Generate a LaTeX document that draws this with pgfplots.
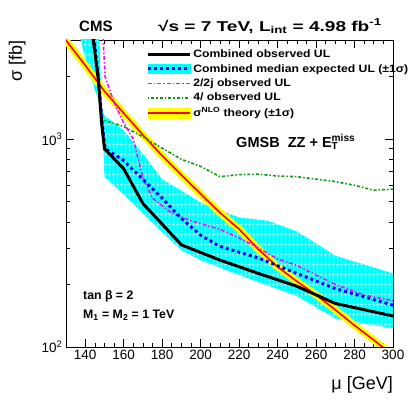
\documentclass[border=0pt]{standalone}
\usepackage{fontspec}
\setmainfont{Liberation Sans}
\newfontfamily\widefont[FakeStretch=1.33]{Liberation Sans}
\newfontfamily\legfont[FakeStretch=1.14]{Liberation Sans}
\usepackage{pgfplots}
\pgfplotsset{compat=1.18}
\usetikzlibrary{patterns.meta}
\definecolor{rootgreen}{rgb}{0.05,0.6,0.05}
\definecolor{rcyan}{rgb}{0,1,1}
\definecolor{rmagenta}{rgb}{1,0,1}
\definecolor{ryellow}{rgb}{1,1,0}
\definecolor{rred}{rgb}{1,0,0}
\definecolor{rblue}{rgb}{0,0,1}
\tikzdeclarepattern{name=bandgrid, type=uncolored, bounding box={(0pt,0pt) and (4pt,10pt)}, tile size={(4pt,10pt)}, code={\draw[line width=0.6pt] (2pt,0pt)--(2pt,10pt); \draw[line width=0.6pt] (0pt,5pt)--(4pt,5pt);}}
\pgfplotsset{
 legobs/.style={legend image code/.code={\draw[black, line width=3pt] (0pt,0pt) -- (42pt,0pt);}},
 legexp/.style={legend image code/.code={\fill[rcyan] (0pt,-4.5pt) rectangle (42pt,4.5pt); \draw[rblue, line width=3pt, dash pattern=on 3pt off 3pt] (0pt,0pt) -- (42pt,0pt);}},
 legll/.style={legend image code/.code={\draw[rmagenta, line width=1.5pt, dash pattern=on 4pt off 2pt on 1.5pt off 2pt] (0pt,0pt) -- (42pt,0pt);}},
 legfour/.style={legend image code/.code={\draw[rootgreen, line width=1.6pt, dash pattern=on 1.5pt off 2pt on 3pt off 2pt] (0pt,0pt) -- (42pt,0pt);}},
 legth/.style={legend image code/.code={\fill[ryellow] (0pt,-5pt) rectangle (42pt,5pt); \draw[rred, line width=1.6pt] (0pt,0pt) -- (42pt,0pt);}},
}
\begin{document}
\begin{tikzpicture}
\useasboundingbox (-66pt,-52pt) rectangle (349pt,347pt);
\begin{axis}[
 at={(0pt,0pt)}, anchor=south west,
 scale only axis, width=327pt, height=307pt,
 xmin=130, xmax=300, ymin=100, ymax=3000, ymode=log,
 xtick={140,160,...,300}, minor x tick num=3,
 ytick={100,1000}, yticklabels={10\textsuperscript{2},10\textsuperscript{3}},
 minor ytick={200,300,400,500,600,700,800,900,2000,3000},
 tick align=inside, major tick length=8pt, minor tick length=4pt,
 axis line style={line width=0.8pt},
 every tick/.style={black, line width=0.6pt},
 tick label style={font=\fontsize{13.5}{15}\selectfont},
 /pgf/number format/assume math mode=true,
 /pgf/number format/set thousands separator={},
 xlabel={μ [GeV]}, ylabel={σ [fb]},
 label style={font=\fontsize{18}{20}\selectfont},
 xlabel style={at={(axis description cs:1,-0.140)}, anchor=base east, inner sep=0pt},
 ylabel style={at={(axis description cs:-0.1346,1)}, anchor=base east, inner sep=0pt},
 clip mode=individual,
 legend style={draw=none, fill=none, at={(axis description cs:0.245,0.975)}, anchor=north west,
   font=\legfont\fontsize{10.7}{12}\selectfont\bfseries, inner sep=0pt, row sep=1.2pt,
   cells={anchor=west}, /tikz/every even column/.append style={column sep=4pt}},
 legend cell align=left,
]
% expected +-1 sigma band
\addplot[fill=rcyan, draw=none, forget plot] coordinates {
 (136.5,3300) (140,2450) (145,1720) (150,1300) (160,1100) (170,850) (180,640) (190,565)
 (200,495) (210,455) (220,420) (235,405) (250,360) (270,275) (300,226)
 (300,123) (270,137) (250,176) (240,190) (220,222) (200,262) (190,292) (180,357)
 (170,440) (160,541) (150,660) (147.3,3000) (146.8,3600)
};
\addplot[pattern=bandgrid, pattern color=white!75!rcyan, draw=none, forget plot] coordinates {
 (136.5,3300) (140,2450) (145,1720) (150,1300) (160,1100) (170,850) (180,640) (190,565)
 (200,495) (210,455) (220,420) (235,405) (250,360) (270,275) (300,226)
 (300,123) (270,137) (250,176) (240,190) (220,222) (200,262) (190,292) (180,357)
 (170,440) (160,541) (150,660) (147.3,3000) (146.8,3600)
};
% theory
\addplot[ryellow, line width=7pt, forget plot] coordinates {
 (128,3200) (130,2990) (140,2265) (150,1700) (160,1334) (170,1047) (180,832) (190,673) (200,545)
 (210,443) (220,369) (230,295) (240,243) (250,207) (260,178) (270,151) (280,127) (290,108) (300,91)
};
\addplot[rred, line width=1.6pt, forget plot] coordinates {
 (128,3200) (130,2990) (140,2265) (150,1700) (160,1334) (170,1047) (180,832) (190,673) (200,545)
 (210,443) (220,369) (230,295) (240,243) (250,207) (260,178) (270,151) (280,127) (290,108) (300,91)
};
% 4l observed
\addplot[rootgreen, line width=1.6pt, dash pattern=on 1.5pt off 2pt on 3pt off 2pt, forget plot] coordinates {
 (150,1230) (160,1150) (170,1025) (180,905) (190,800) (200,740) (210,660) (220,675) (230,678)
 (240,665) (250,660) (260,642) (270,625) (280,600) (290,568) (300,575)
};
% 2l2j observed
\addplot[rmagenta, line width=1.5pt, dash pattern=on 4pt off 2pt on 1.5pt off 2pt, forget plot] coordinates {
 (149.3,3100) (150.3,2000) (155,1500) (160,1200) (165,1000) (170,650) (175,520) (185,440)
 (195,405) (210,368) (220,335) (230,300) (240,265) (250,247) (260,222) (270,200) (285,178) (300,167)
};
% expected
\addplot[rblue, line width=3pt, dash pattern=on 3pt off 3pt, forget plot] coordinates {
 (144.5,3100) (147,1900) (148.8,1200) (150.3,900) (160,790) (170,640) (180,520) (190,415)
 (200,345) (210,305) (230,268) (250,226) (270,191) (300,159)
};
% observed
\addplot[black, line width=3pt, forget plot] coordinates {
 (144.0,3100) (146.8,1940) (148.5,1200) (150,900) (160,720) (170,490) (180,390) (190,310)
 (210,262) (230,226) (250,196) (270,162) (300,141)
};
\addlegendimage{legobs}
\addlegendentry{Combined observed UL}
\addlegendimage{legexp}
\addlegendentry{Combined median expected UL (±1σ)}
\addlegendimage{legll}
\addlegendentry{2/2j observed UL}
\addlegendimage{legfour}
\addlegendentry{4/ observed UL}
\addlegendimage{legth}
\addlegendentry{σ\textsuperscript{NLO} theory (±1σ)}
\node[anchor=base west, inner sep=0pt, font=\fontsize{15}{17}\selectfont\bfseries] at (axis description cs:0.0398,1.029) {CMS};
\node[anchor=base east, inner sep=0pt, font=\widefont\fontsize{14.3}{16}\selectfont\bfseries] at (axis description cs:0.966,1.029) {√s = 7 TeV, L\textsubscript{int} = 4.98 fb\textsuperscript{-1}};
\node[anchor=base west, inner sep=0pt, font=\fontsize{14.5}{16}\selectfont\bfseries] at (axis description cs:0.52,0.651) {GMSB\ \ ZZ + E\rlap{\textsubscript{T}}\textsuperscript{miss}};
\node[anchor=base west, inner sep=0pt, font=\fontsize{12.3}{14}\selectfont\bfseries] at (axis description cs:0.052,0.156) {tan β = 2};
\node[anchor=base west, inner sep=0pt, font=\fontsize{12.3}{14}\selectfont\bfseries] at (axis description cs:0.052,0.0912) {M\textsubscript{1} = M\textsubscript{2} = 1 TeV};
\end{axis}
\end{tikzpicture}
\end{document}
